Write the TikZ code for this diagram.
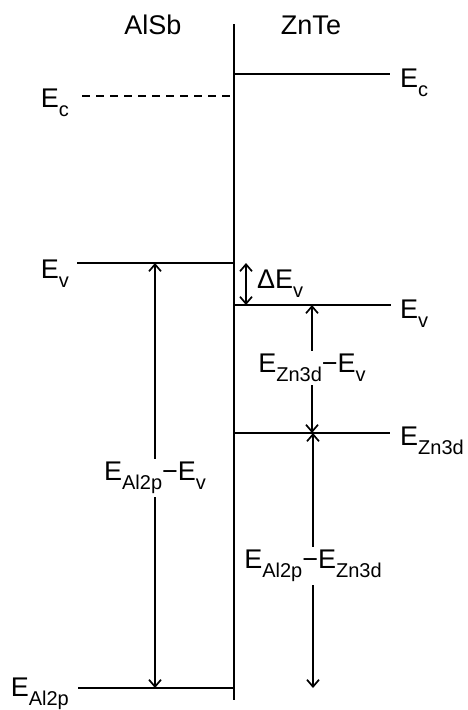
\documentclass[tikz,border=0pt]{standalone}
\usepackage{fontspec}
\setmainfont{Liberation Sans}
\usetikzlibrary{arrows.meta,positioning}
\newcommand{\lowsub}[1]{\raisebox{-9pt}{\fontsize{20}{20}\selectfont #1}}
\tikzset{
  lvl/.style={line width=1.7pt},
  lbl/.style={font=\fontsize{27}{30}\selectfont, inner sep=1pt},
  gap/.style={line width=1.7pt, -{Straight Barb[length=7pt,width=12pt]}},
  dgap/.style={line width=1.7pt, {Straight Barb[length=7pt,width=12pt]}-{Straight Barb[length=7pt,width=12pt]}}
}

\begin{document}
\begin{tikzpicture}[x=1pt, y=-1pt]
  \useasboundingbox (0,0) rectangle (468,710);
  % interface
  \coordinate (top) at (234,24);
  \coordinate (bot) at (234,700);
  \draw[lvl] (top) -- (bot);
  \node[lbl, anchor=base] (alsb) at (153,34) {AlSb};
  \node[lbl, anchor=base] (znte) at (311,34) {ZnTe};

  % band edges
  \coordinate (ecZa) at (234,74);  \coordinate (ecZb) at (390,74);
  \coordinate (ecAa) at (82,96);   \coordinate (ecAb) at (232,96);
  \coordinate (evAa) at (77,263);  \coordinate (evAb) at (234,263);
  \coordinate (evZa) at (234,305); \coordinate (evZb) at (391,305);
  \coordinate (znZa) at (234,433); \coordinate (znZb) at (390,433);
  \coordinate (alAa) at (78,688);  \coordinate (alAb) at (234,688);
  \draw[lvl] (ecZa) -- (ecZb);
  \draw[lvl, dash pattern=on 8pt off 6pt] (ecAa) -- (ecAb);
  \draw[lvl] (evAa) -- (evAb);
  \draw[lvl] (evZa) -- (evZb);
  \draw[lvl] (znZa) -- (znZb);
  \draw[lvl] (alAa) -- (alAb);

  \node[lbl, anchor=base west] (ecZl) at ([xshift=9pt,yshift=-13pt]ecZb) {E\lowsub{c}};
  \node[lbl, anchor=base east] (ecAl) at ([xshift=-12pt,yshift=-11pt]ecAa) {E\lowsub{c}};
  \node[lbl, anchor=base east] (evAl) at ([xshift=-7pt,yshift=-15pt]evAa) {E\lowsub{v}};
  \node[lbl, anchor=base west] (evZl) at ([xshift=8pt,yshift=-13pt]evZb) {E\lowsub{v}};
  \node[lbl, anchor=base west] (znZl) at ([xshift=9pt,yshift=-12pt]znZb) {E\lowsub{Zn3d}};
  \node[lbl, anchor=base east] (alAl) at ([xshift=-8pt,yshift=-8pt]alAa) {E\lowsub{Al2p}};

  % offsets
  \coordinate (dvA) at (246,263);
  \coordinate (dvB) at (246,305);
  \draw[dgap] (dvA) -- (dvB);
  \node[lbl, anchor=base west] (dev) at (256,288) {ΔE\lowsub{v}};

  \coordinate (zvT) at (312,305);
  \coordinate (zvB) at (312,433);
  \node[lbl, inner sep=3pt] (zvl) at (312,368) {E\lowsub{Zn3d}−E\lowsub{v}};
  \draw[gap] (zvl.north) -- (zvT);
  \draw[gap] (zvl.south) -- (zvB);

  \coordinate (avT) at (155,263);
  \coordinate (avB) at (155,688);
  \node[lbl, inner sep=3pt] (avl) at (155,478) {E\lowsub{Al2p}−E\lowsub{v}};
  \draw[gap] (avl.north) -- (avT);
  \draw[gap] (avl.south) -- (avB);

  \coordinate (azT) at (313,433);
  \coordinate (azB) at (313,688);
  \node[lbl, inner sep=3pt] (azl) at (313,566) {E\lowsub{Al2p}−E\lowsub{Zn3d}};
  \draw[gap] (azl.north) -- (azT);
  \draw[gap] (azl.south) -- (azB);
\end{tikzpicture}
\end{document}
